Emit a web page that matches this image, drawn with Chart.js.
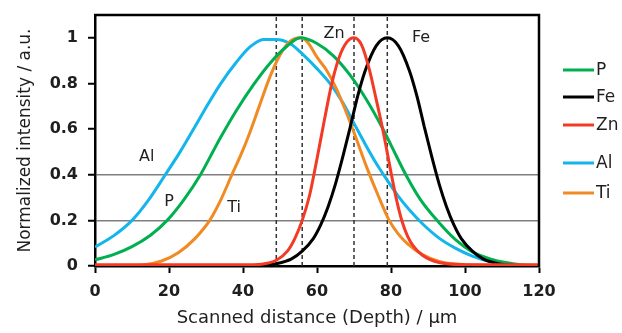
<!DOCTYPE html>
<html>
<head>
<meta charset="utf-8">
<script src="https://cdn.jsdelivr.net/npm/chart.js@4/dist/chart.umd.min.js"></script>
<style>
  html, body { margin: 0; padding: 0; background: #fff; }
  #wrap { width: 622px; height: 333px; }
</style>
</head>
<body>
<div id="wrap"><canvas id="c" width="622" height="333"></canvas></div>
<script>
// ---- data (depth in µm, normalized intensity) ----
const alX = [0, 5, 10, 14.5, 19, 23, 27, 29.3, 33.8, 38.3, 41.9, 45.5, 49, 52.7, 56.3, 60, 63.5, 67, 70, 73, 76, 79, 82, 85, 88.5, 93, 97.5, 102, 107, 112, 120];
const alY = [0.083, 0.132, 0.2, 0.29, 0.4, 0.5, 0.61, 0.675, 0.795, 0.895, 0.96, 0.993, 0.993, 0.975, 0.925, 0.865, 0.8, 0.715, 0.625, 0.535, 0.45, 0.375, 0.305, 0.245, 0.185, 0.122, 0.077, 0.043, 0.018, 0.006, 0.001];

const pX = [0, 5, 10, 15, 19.5, 24, 28.5, 32, 34, 38.3, 42.8, 47.3, 51.8, 55.5, 60, 64.5, 69, 73.5, 77.5, 80, 84, 88, 93, 97.5, 102, 107, 111, 115, 120];
const pY = [0.027, 0.05, 0.085, 0.135, 0.2, 0.29, 0.4, 0.505, 0.565, 0.684, 0.794, 0.889, 0.962, 1.0, 0.975, 0.92, 0.835, 0.725, 0.61, 0.53, 0.4, 0.29, 0.19, 0.115, 0.062, 0.03, 0.015, 0.006, 0.002];

const tiX = [0, 10, 13, 18, 22.5, 27, 31, 34, 37, 39.5, 41.5, 44.5, 47.3, 50, 52.7, 55.5, 57.5, 60, 62.5, 65, 67.5, 70, 73.5, 76.5, 79.5, 82, 84.5, 88.5, 93, 100, 110, 120];
const tiY = [0.002, 0.002, 0.004, 0.022, 0.058, 0.12, 0.2, 0.29, 0.4, 0.49, 0.57, 0.705, 0.83, 0.925, 0.984, 1.0, 0.98, 0.915, 0.86, 0.785, 0.69, 0.585, 0.43, 0.31, 0.2, 0.14, 0.097, 0.05, 0.02, 0.005, 0.002, 0.002];

const znX = [0, 40, 45, 49, 52, 54, 56, 58, 60, 62, 64, 66, 68, 70, 72, 74, 76, 78, 80, 81.5, 83, 84.5, 86, 88.5, 93, 100, 120];
const znY = [0.005, 0.005, 0.008, 0.025, 0.065, 0.12, 0.2, 0.31, 0.47, 0.64, 0.8, 0.915, 0.98, 1.0, 0.97, 0.87, 0.73, 0.58, 0.41, 0.29, 0.195, 0.13, 0.088, 0.047, 0.015, 0.006, 0.005];

const feX = [0, 45, 49, 53, 56, 59, 61, 63, 65, 67, 69, 71, 73, 76, 79, 82, 85, 87, 89, 91, 93, 95, 97, 99, 102, 105, 109, 113, 120];
const feY = [0.001, 0.002, 0.01, 0.03, 0.065, 0.12, 0.18, 0.26, 0.36, 0.48, 0.61, 0.745, 0.855, 0.965, 1.0, 0.965, 0.855, 0.745, 0.61, 0.48, 0.36, 0.26, 0.18, 0.12, 0.065, 0.03, 0.01, 0.003, 0.001];

const dividerDepths = [49, 56, 70, 79];
const gridLevels = [0.2, 0.4];
const xTickValues = [0, 20, 40, 60, 80, 100, 120];
const yTickLabels = ['0', '0.2', '0.4', '0.6', '0.8', '1'];

const legendNames = ['P', 'Fe', 'Zn', 'Al', 'Ti'];
const curveLabels = ['Al', 'P', 'Ti', 'Zn', 'Fe'];
const curveLabelX = [14, 20, 37.6, 64.6, 88.1];
const curveLabelY = [0.477, 0.28, 0.257, 1.016, 1.0];

// ---- styles ----
const colors = { P: '#00B050', Fe: '#000000', Zn: '#F23A25', Al: '#13B5EA', Ti: '#F08A24' };
const legendRowY = [70, 97, 125, 163, 193];
const FONT = '"DejaVu Sans", Verdana, sans-serif';
const TEXT = '#1f1f1f';

function pts(xs, ys) { return xs.map((x, i) => ({ x: x, y: ys[i] })); }

const series = [
  { name: 'Zn', xs: znX, ys: znY, order: 1 },
  { name: 'Fe', xs: feX, ys: feY, order: 2 },
  { name: 'P',  xs: pX,  ys: pY,  order: 3 },
  { name: 'Ti', xs: tiX, ys: tiY, order: 4 },
  { name: 'Al', xs: alX, ys: alY, order: 5 }
];

const datasets = series.map(s => ({
  label: s.name,
  data: pts(s.xs, s.ys),
  borderColor: colors[s.name],
  backgroundColor: colors[s.name],
  borderWidth: 3,
  pointRadius: 0,
  cubicInterpolationMode: 'monotone',
  fill: false,
  order: s.order
}));

dividerDepths.forEach((d, i) => {
  datasets.push({
    label: 'div' + i,
    data: [{ x: d, y: 0 }, { x: d, y: 1.1 }],
    borderColor: '#333',
    borderWidth: 1.5,
    borderDash: [4, 3],
    pointRadius: 0,
    fill: false,
    order: 10
  });
});

const framePlugin = {
  id: 'frame',
  afterDatasetsDraw(chart) {
    const { ctx, chartArea: a, scales } = chart;
    ctx.save();
    ctx.strokeStyle = '#000';
    ctx.lineWidth = 2.5;
    ctx.beginPath();
    ctx.moveTo(a.left - 1, a.top);
    ctx.lineTo(a.right, a.top);
    ctx.lineTo(a.right, a.bottom + 1);
    ctx.stroke();
    // curve labels
    ctx.fillStyle = TEXT;
    ctx.font = '16px ' + FONT;
    ctx.textAlign = 'center';
    ctx.textBaseline = 'middle';
    curveLabels.forEach((t, i) => {
      ctx.fillText(t, scales.x.getPixelForValue(curveLabelX[i]), scales.y.getPixelForValue(curveLabelY[i]));
    });
    // legend
    ctx.font = '17px ' + FONT;
    ctx.textAlign = 'left';
    legendNames.forEach((n, i) => {
      const y = legendRowY[i];
      ctx.strokeStyle = colors[n];
      ctx.lineWidth = 3;
      ctx.beginPath();
      ctx.moveTo(563, y);
      ctx.lineTo(594, y);
      ctx.stroke();
      ctx.fillStyle = TEXT;
      ctx.fillText(n, 596, y + 1);
    });
    ctx.restore();
  }
};

new Chart(document.getElementById('c'), {
  type: 'line',
  data: { datasets: datasets },
  options: {
    responsive: false,
    animation: false,
    layout: { padding: { top: 15, right: 83, left: 0, bottom: 0 } },
    plugins: { legend: { display: false }, tooltip: { enabled: false } },
    scales: {
      x: {
        type: 'linear',
        min: 0, max: 120,
        afterFit: s => { s.height = 67; s.paddingLeft = 0; s.paddingRight = 0; },
        afterBuildTicks: s => { s.ticks = xTickValues.map(v => ({ value: v })); },
        ticks: { color: TEXT, font: { family: FONT, size: 16, weight: 'bold' }, padding: 9, maxRotation: 0 },
        grid: { drawOnChartArea: false, tickLength: 7, tickColor: '#000', tickWidth: 2 },
        border: { color: '#000', width: 2.5 },
        title: { display: true, text: 'Scanned distance (Depth) / µm', color: TEXT,
                 font: { family: FONT, size: 18 }, padding: { top: 0, bottom: 4 } }
      },
      y: {
        min: 0, max: 1.1,
        afterFit: s => { s.width = 95; s.paddingTop = 0; s.paddingBottom = 0; },
        afterBuildTicks: s => { s.ticks = yTickLabels.map(l => ({ value: parseFloat(l) })); },
        ticks: { color: TEXT, font: { family: FONT, size: 16, weight: 'bold' }, padding: 10,
                 callback: (v, i) => yTickLabels[i] },
        grid: {
          color: c => (c.tick && gridLevels.includes(Math.round(c.tick.value * 10) / 10)) ? '#7f7f7f' : 'rgba(0,0,0,0)',
          lineWidth: 1.5,
          tickLength: 7, tickColor: '#000', tickWidth: 2
        },
        border: { color: '#000', width: 2.5 },
        title: { display: true, text: 'Normalized intensity / a.u.', color: TEXT,
                 font: { family: FONT, size: 17 }, padding: { top: 15, bottom: 0 } }
      }
    }
  },
  plugins: [framePlugin]
});
</script>
</body>
</html>
